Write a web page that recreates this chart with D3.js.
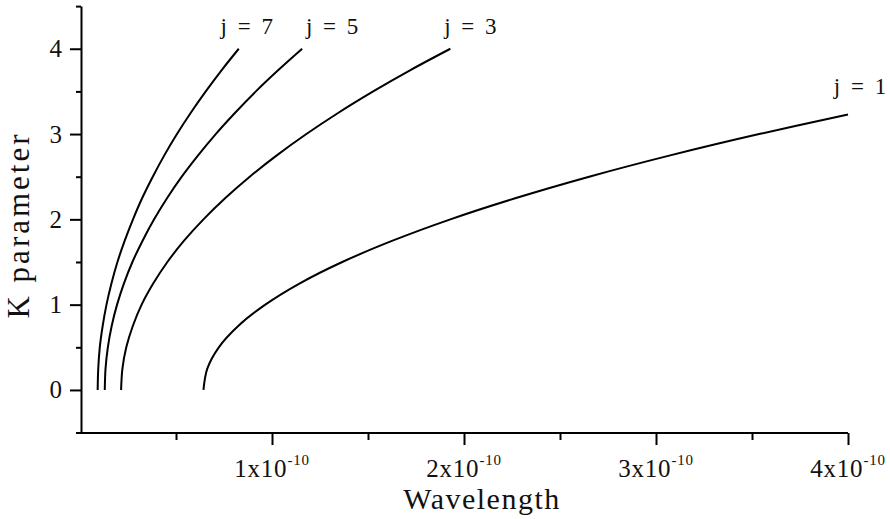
<!DOCTYPE html>
<html>
<head>
<meta charset="utf-8">
<script src="https://cdn.jsdelivr.net/npm/d3@7"></script>
<style>
  body { margin: 0; background: #fff; }
  text { font-family: "Liberation Serif", "Times New Roman", serif; fill: #111; }
</style>
</head>
<body>
<div id="chart"></div>
<script>
// K values shared by the j = 3, 5, 7 curves
const kValues = [0, 0.25, 0.5, 0.75, 1, 1.25, 1.5, 1.75, 2, 2.25, 2.5, 2.75, 3, 3.25, 3.5, 3.75, 4];
// j = 1 stops at the right edge of the plot
const kValuesJ1 = [0, 0.25, 0.5, 0.75, 1, 1.25, 1.5, 1.75, 2, 2.25, 2.5, 2.75, 3, 3.23];

// wavelengths, in units of 1e-10
const wavelengthJ1 = [0.643, 0.663, 0.723, 0.824, 0.965, 1.145, 1.366, 1.628, 1.929, 2.271, 2.652, 3.074, 3.537, 4.0];
const wavelengthJ3 = [0.214, 0.221, 0.241, 0.275, 0.321, 0.382, 0.455, 0.542, 0.643, 0.757, 0.884, 1.025, 1.179, 1.346, 1.527, 1.721, 1.929];
const wavelengthJ5 = [0.129, 0.133, 0.145, 0.165, 0.193, 0.229, 0.273, 0.326, 0.386, 0.454, 0.530, 0.615, 0.707, 0.808, 0.916, 1.033, 1.157];
const wavelengthJ7 = [0.092, 0.095, 0.103, 0.118, 0.138, 0.164, 0.195, 0.233, 0.276, 0.324, 0.379, 0.439, 0.505, 0.577, 0.655, 0.738, 0.827];

const seriesLabels = ["j = 1", "j = 3", "j = 5", "j = 7"];

const xTickValues = [1, 2, 3, 4];
const xMinorTicks = [0.5, 1.5, 2.5, 3.5];
const yTickValues = [0, 1, 2, 3, 4];
const yMinorTicks = [0.5, 1.5, 2.5, 3.5, 4.5];

const width = 890;
const height = 519;

const svg = d3.select("#chart")
    .append("svg")
    .attr("width", width)
    .attr("height", height);

const x = d3.scaleLinear().domain([0, 4]).range([80, 848]);
const y = d3.scaleLinear().domain([-0.5, 4.5]).range([432.6, 6.1]);

const series = [
    { label: seriesLabels[0], k: kValuesJ1, wl: wavelengthJ1, dx: 12, dy: -20 },
    { label: seriesLabels[1], k: kValues, wl: wavelengthJ3, dx: 20, dy: -15 },
    { label: seriesLabels[2], k: kValues, wl: wavelengthJ5, dx: 30, dy: -15 },
    { label: seriesLabels[3], k: kValues, wl: wavelengthJ7, dx: 8, dy: -15 }
];

const line = d3.line()
    .x(d => x(d[0]))
    .y(d => y(d[1]))
    .curve(d3.curveCatmullRom.alpha(0.5));

series.forEach(s => {
    const pts = s.wl.map((w, i) => [w, s.k[i]]);
    svg.append("path")
        .datum(pts)
        .attr("fill", "none")
        .attr("stroke", "#000")
        .attr("stroke-width", 2)
        .attr("d", line);

    const last = pts[pts.length - 1];
    svg.append("text")
        .attr("x", x(last[0]) + s.dx)
        .attr("y", y(last[1]) + s.dy)
        .attr("text-anchor", "middle")
        .attr("font-size", 23)
        .attr("word-spacing", 5)
        .text(s.label);
});

// axes
const axisY = 433;

const xAxis = svg.append("g")
    .attr("transform", `translate(0, ${axisY})`)
    .call(d3.axisBottom(x).tickValues(xTickValues).tickSize(12).tickSizeOuter(0).tickFormat(""));

svg.append("g")
    .attr("transform", `translate(0, ${axisY})`)
    .call(d3.axisBottom(x).tickValues(xMinorTicks).tickSize(7).tickSizeOuter(0).tickFormat(""))
    .select(".domain").remove();

xAxis.select(".domain").attr("d", `M${x(0) - 4},0H${x(4)}`);

const xLabels = svg.append("g");
xTickValues.forEach(v => {
    const t = xLabels.append("text")
        .attr("x", x(v))
        .attr("y", 477)
        .attr("text-anchor", "middle")
        .attr("letter-spacing", 0.8);
    t.append("tspan").attr("font-size", 25).text(v + "x10");
    t.append("tspan").attr("font-size", 15).attr("dy", -12).text("-10");
});

const yAxis = svg.append("g")
    .attr("transform", `translate(81, 0)`)
    .call(d3.axisLeft(y).tickValues(yTickValues).tickSize(11).tickPadding(8)
        .tickSizeOuter(0).tickFormat(d3.format("d")));

svg.append("g")
    .attr("transform", `translate(81, 0)`)
    .call(d3.axisLeft(y).tickValues(yMinorTicks).tickSize(5).tickSizeOuter(0).tickFormat(""))
    .select(".domain").remove();

svg.selectAll(".domain, .tick line")
    .attr("stroke", "#000")
    .attr("stroke-width", 2);

yAxis.selectAll(".tick text")
    .attr("font-size", 25)
    .attr("font-family", "Liberation Serif, serif")
    .attr("fill", "#111");

// axis titles
svg.append("text")
    .attr("x", 482)
    .attr("y", 509)
    .attr("text-anchor", "middle")
    .attr("font-size", 30)
    .attr("letter-spacing", 1.5)
    .text("Wavelength");

svg.append("text")
    .attr("transform", "translate(29, 225) rotate(-90)")
    .attr("text-anchor", "middle")
    .attr("font-size", 31)
    .attr("letter-spacing", 3)
    .text("K parameter");
</script>
</body>
</html>
